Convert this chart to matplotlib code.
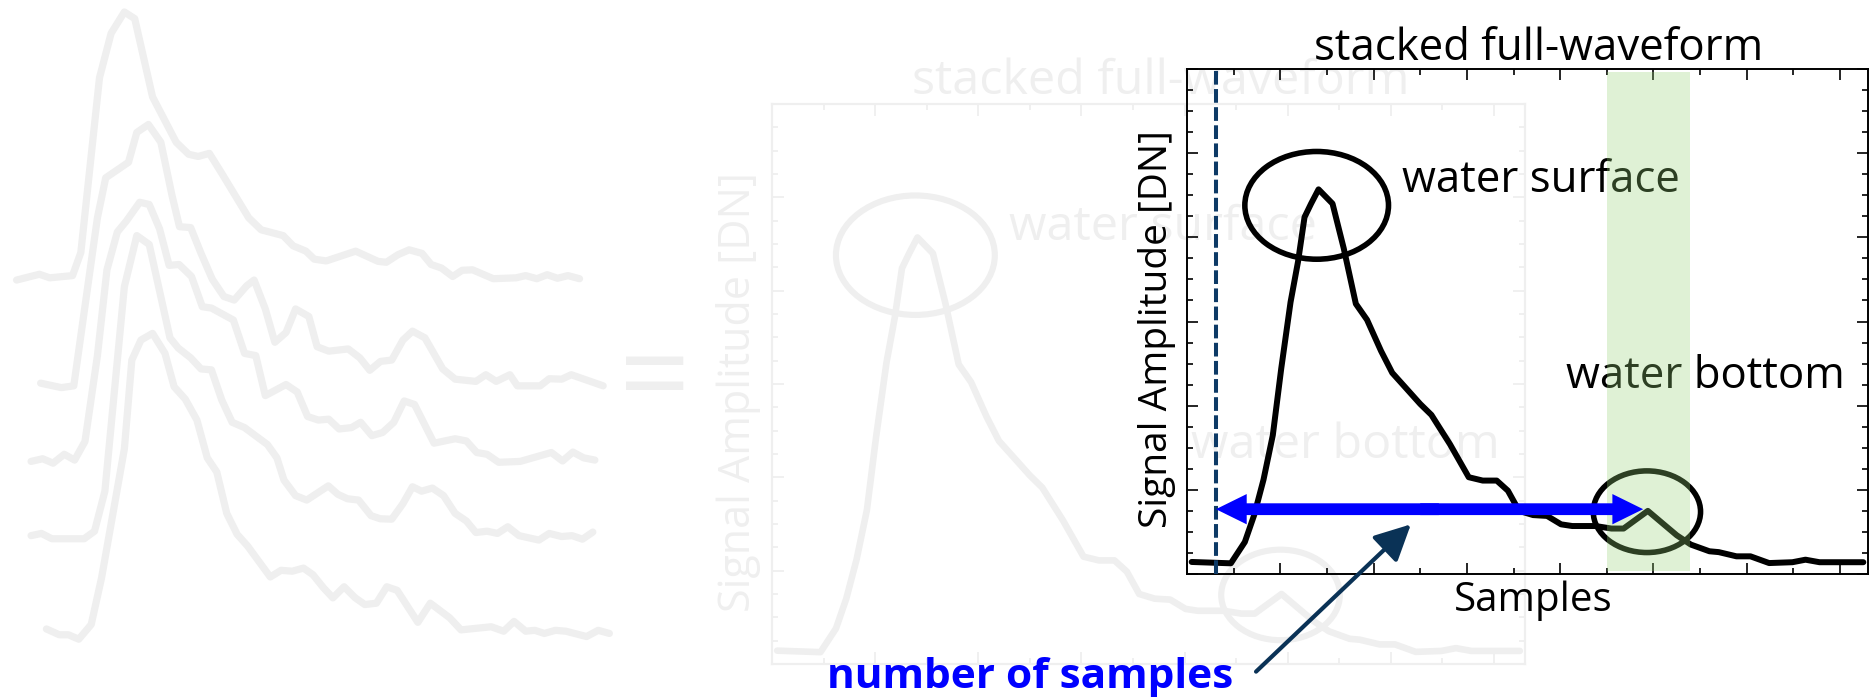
import matplotlib
matplotlib.use("Agg")
import matplotlib.pyplot as plt
from matplotlib.patches import Ellipse, FancyArrow
from matplotlib.ticker import MultipleLocator

plt.rcParams['font.family'] = ['Open Sans', 'DejaVu Sans']

# stacked full-waveform (sample index, amplitude)
wave_x = [0.5, 4.7, 6.2, 7.2, 8.2, 9.2, 10.1, 11.1, 11.9, 12.6, 13.3, 14.1, 15.6, 16.8,
          18.1, 19.3, 20.8, 22.0, 23.3, 25.0, 26.2, 28.2, 30.2, 31.7, 33.2, 34.4, 35.6,
          37.1, 38.6, 40.1, 41.3, 43.8, 45.5, 46.8, 49.4, 51.0, 52.5, 54.0, 56.0, 57.0,
          58.9, 60.4, 62.4, 64.9, 66.3, 67.8, 72.5]
wave_y = [1.43, 1.27, 3.8, 7.0, 11.2, 16.5, 24.4, 32.3, 37.1, 42.4, 44.0, 45.7, 44.0, 38.7,
          32.1, 30.2, 26.5, 23.9, 22.3, 20.2, 18.9, 15.4, 11.5, 11.1, 11.1, 9.9, 7.5,
          7.0, 6.9, 5.9, 5.7, 5.7, 5.4, 5.4, 7.5, 6.0, 4.6, 3.5, 2.7, 2.6,
          2.1, 2.1, 1.3, 1.4, 1.7, 1.4, 1.4]

# circled returns: centre, width, height
ellipse_cx = [13.9, 49.3]
ellipse_cy = [43.8, 7.4]
ellipse_w = [15.4, 11.5]
ellipse_h = [12.8, 9.7]

labels = ['water surface', 'water bottom']
label_x = [23.0, 40.6]
label_y = [45.4, 22.1]

first_sample = 3.1
bottom_window = (45.0, 53.9)
arrow_y = 7.7
arrow_end = 48.9

# single waveforms that are stacked (sketch units: sample, inverted amplitude)
trace1_x = [40, 95, 120, 175, 195, 240, 268, 300, 325, 368, 425, 455, 478, 505, 535, 600, 630,
            683, 707, 738, 758, 787, 858, 912, 932, 960, 987, 1018, 1040, 1065, 1092, 1115,
            1140, 1190, 1245, 1268, 1295, 1320, 1345, 1370, 1398]
trace1_y = [630, 617, 625, 620, 568, 175, 75, 27, 42, 218, 320, 347, 352, 345, 390, 490, 517,
            530, 553, 565, 583, 587, 565, 588, 590, 573, 562, 570, 595, 603, 622, 608,
            607, 627, 625, 620, 627, 618, 626, 620, 627]
trace2_x = [98, 148, 178, 235, 255, 310, 330, 358, 388, 415, 433, 460, 485, 512, 540, 565, 595,
            613, 640, 663, 690, 713, 745, 765, 793, 840, 868, 892, 918, 945, 972, 995, 1025,
            1068, 1098, 1148, 1172, 1197, 1230, 1248, 1303, 1325, 1355, 1378, 1455]
trace2_y = [862, 872, 868, 490, 400, 365, 298, 280, 320, 440, 510, 512, 570, 628, 667, 675, 643,
            630, 695, 770, 748, 695, 712, 780, 790, 785, 805, 833, 813, 810, 765, 745, 760,
            830, 853, 858, 843, 858, 843, 868, 868, 852, 853, 843, 868]
trace3_x = [75, 103, 128, 155, 180, 205, 235, 258, 283, 305, 337, 360, 385, 408, 432, 462, 488,
            510, 563, 590, 617, 640, 690, 717, 742, 768, 793, 818, 848, 870, 897, 923, 950,
            975, 1000, 1047, 1098, 1125, 1150, 1175, 1203, 1255, 1330, 1357, 1382, 1408, 1435]
trace3_y = [1038, 1032, 1042, 1022, 1035, 993, 800, 607, 522, 497, 455, 460, 515, 597, 595, 622,
            690, 693, 720, 795, 800, 890, 865, 882, 937, 945, 943, 965, 962, 950, 980, 973,
            950, 902, 910, 997, 987, 992, 1018, 1022, 1040, 1038, 1018, 1037, 1017, 1030, 1035]
trace4_x = [75, 100, 125, 203, 228, 253, 300, 330, 360, 410, 430, 460, 485, 510, 535, 560, 590,
            645, 668, 685, 713, 740, 792, 815, 838, 865, 895, 917, 945, 972, 995, 1017, 1043,
            1070, 1098, 1125, 1148, 1175, 1200, 1225, 1252, 1300, 1325, 1355, 1380, 1405, 1430]
trace4_y = [1205, 1200, 1212, 1212, 1195, 1105, 645, 530, 550, 760, 783, 805, 830, 832, 900, 950,
            962, 1000, 1030, 1080, 1115, 1125, 1093, 1112, 1122, 1125, 1160, 1167, 1168, 1133,
            1095, 1105, 1098, 1115, 1155, 1172, 1198, 1195, 1200, 1185, 1205, 1215, 1200, 1207,
            1205, 1213, 1197]
trace5_x = [112, 143, 165, 190, 220, 245, 300, 318, 340, 368, 398, 420, 447, 475, 500, 523, 547,
            572, 597, 652, 678, 705, 732, 755, 780, 803, 830, 857, 880, 908, 933, 958, 1008,
            1038, 1085, 1112, 1185, 1215, 1240, 1268, 1290, 1313, 1340, 1365, 1415, 1443, 1470]
trace5_y = [1415, 1428, 1428, 1438, 1405, 1300, 1010, 810, 765, 750, 795, 870, 898, 945, 1030,
            1062, 1155, 1202, 1228, 1298, 1283, 1285, 1278, 1293, 1322, 1345, 1320, 1345, 1360,
            1357, 1320, 1328, 1400, 1357, 1390, 1417, 1410, 1420, 1398, 1420, 1418, 1425, 1418,
            1420, 1432, 1418, 1425]

faded = '#efefef'
fs_big = 31.5
fs_ylab = 28
fs_xlab = 29

fig = plt.figure(figsize=(18.75, 6.97), dpi=100)


def draw_panel(ax, color, s):
    ax.set_xlim(0, 73)
    ax.set_ylim(0, 60)
    ax.set_facecolor('none')
    ax.xaxis.set_major_locator(MultipleLocator(10))
    ax.xaxis.set_minor_locator(MultipleLocator(5))
    ax.yaxis.set_major_locator(MultipleLocator(10))
    ax.yaxis.set_minor_locator(MultipleLocator(2.5))
    ax.tick_params(which='both', direction='in', top=True, right=True,
                   labelbottom=False, labelleft=False, color=color, width=1.2 * s)
    ax.tick_params(which='major', length=8 * s)
    ax.tick_params(which='minor', length=4 * s)
    for sp in ax.spines.values():
        sp.set_color(color)
        sp.set_linewidth(1.4 * s)
    ax.plot(wave_x, wave_y, color=color, lw=4.3 * s, solid_joinstyle='round',
            solid_capstyle='round', zorder=2)
    for cx, cy, w, h in zip(ellipse_cx, ellipse_cy, ellipse_w, ellipse_h):
        ax.add_patch(Ellipse((cx, cy), w, h, fill=False, edgecolor=color, lw=4.0 * s, zorder=2))
    for t, x, y in zip(labels, label_x, label_y):
        ax.text(x, y, t, fontsize=fs_big * s, color=color, ha='left', va='baseline', zorder=1)
    ax.text(37.7, 61.1, 'stacked full-waveform', fontsize=fs_big * s, color=color,
            ha='center', va='baseline', clip_on=False)
    ax.text(-3.2, 29.1, 'Signal Amplitude [DN]', fontsize=fs_ylab * s, color=color,
            rotation=90, ha='center', va='center', clip_on=False)


# left: the single waveforms
ax_left = fig.add_axes([0, 0, 650 / 1875, 1])
ax_left.set_xlim(0, 1568)
ax_left.set_ylim(1568, 0)
ax_left.axis('off')
for tx, ty in [(trace1_x, trace1_y), (trace2_x, trace2_y), (trace3_x, trace3_y),
               (trace4_x, trace4_y), (trace5_x, trace5_y)]:
    ax_left.plot(tx, ty, color=faded, lw=5.2, solid_capstyle='round', solid_joinstyle='round')

fig.text(655 / 1875, 1 - 384 / 697, '=', fontsize=90, color=faded, ha='center', va='center')

# faded copy of the chart
ax_ghost = fig.add_axes([772 / 1875, 1 - 664 / 697, 753 / 1875, 560 / 697])
draw_panel(ax_ghost, faded, 1.107)

# main chart
ax = fig.add_axes([1187 / 1875, 1 - 574 / 697, 681 / 1875, 505 / 697])
draw_panel(ax, 'black', 1.0)
ax.text(37.1, -4.4, 'Samples', fontsize=fs_xlab, ha='center', va='baseline', clip_on=False)

ax.axvline(first_sample, color='#0d3a66', lw=2.9, ls=(0, (3.4, 1.1)), zorder=3)
ax.axvspan(bottom_window[0], bottom_window[1], ymin=0.005, ymax=0.994,
           color='#96d376', alpha=0.3, lw=0, zorder=4)

mid = (first_sample + arrow_end) / 2
for end, start in ((first_sample, mid + 1), (arrow_end, mid - 1)):
    ax.add_patch(FancyArrow(start, arrow_y, end - start, 0, width=1.4, head_width=3.6,
                            head_length=3.3, length_includes_head=True,
                            color='#0000ff', lw=0, zorder=5))

ax.text(-38.6, -13.5, 'number of samples', fontsize=fs_big - 1, fontweight='bold',
        color='#0000ff', ha='left', va='baseline', clip_on=False)
ax.annotate('', xy=(24.0, 5.9), xytext=(7.4, -11.6), annotation_clip=False,
            arrowprops=dict(arrowstyle='-|>,head_length=1.0,head_width=0.5',
                            mutation_scale=22, color='#0a3256', lw=3, shrinkA=0, shrinkB=0),
            zorder=5)

fig.savefig('out.png', dpi=100)
